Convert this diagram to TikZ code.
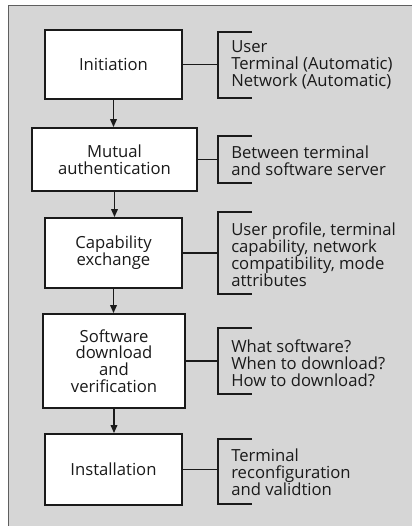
\documentclass[tikz,border=0pt]{standalone}
\usepackage{fontspec}
\setmainfont{Open Sans}
\usetikzlibrary{arrows.meta}
\definecolor{panel}{HTML}{D6D6D6}
\definecolor{ink}{HTML}{1A1A1A}
\begin{document}
\begin{tikzpicture}[x=0.75pt,y=-0.75pt,
  stage/.style={draw=ink,line width=1.4pt,fill=white,align=center,inner sep=0pt,
    font=\fontsize{12.5}{12.6}\selectfont,text=ink},
  note/.style={anchor=west,align=left,inner sep=0pt,
    font=\fontsize{12.5}{12.75}\selectfont,text=ink},
  flow/.style={draw=ink,line width=1.1pt,-{Triangle[length=6pt,width=5pt]}},
  link/.style={draw=ink,line width=1pt},
  brace/.style={draw=ink,line width=1pt}]
\useasboundingbox (0,0) rectangle (412,526);
% grey panel with its left and top rule
\fill[panel] (8,5) rectangle (412,526);
\draw[ink!70,line width=1pt] (8.5,526) -- (8.5,5.5) -- (412,5.5);

% process stages (sizes in px)
\node[stage,minimum width=102.75pt,minimum height=51.75pt] (init) at (113.5,64.5) {Initiation};
\node[stage,minimum width=123.75pt,minimum height=47.25pt] (auth) at (114.5,159.5) {Mutual\\authentication};
\node[stage,minimum width=102.75pt,minimum height=52.5pt] (cap) at (113.5,253) {Capability\\exchange};
\node[stage,minimum width=106.5pt,minimum height=70.5pt] (soft) at (114,361) {Software\\download\\and\\verification};
\node[stage,minimum width=102.75pt,minimum height=53.25pt] (inst) at (113.5,469.5) {Installation};

% flow between stages
\draw[flow] (init.south) -- (init.south |- auth.north);
\draw[flow] (auth.south) -- (auth.south |- cap.north);
\draw[flow] (cap.south) -- (cap.south |- soft.north);
\draw[flow] (soft.south) -- (soft.south |- inst.north);

% side notes
\node[note] (ninit) at (231,65) {User\\Terminal (Automatic)\\Network (Automatic)};
\node[note] (nauth) at (231,161) {Between terminal\\and software server};
\node[note] (ncap) at (231,254.5) {User profile, terminal\\capability, network\\compatibility, mode\\attributes};
\node[note] (nsoft) at (231,363) {What software?\\When to download?\\How to download?};
\node[note] (ninst) at (231,472) {Terminal\\reconfiguration\\and validtion};

% brackets: top end, bottom end
\coordinate (bi1) at (218,32);  \coordinate (bi2) at (218,98);
\coordinate (ba1) at (218,136); \coordinate (ba2) at (218,183);
\coordinate (bc1) at (218,212); \coordinate (bc2) at (218,294);
\coordinate (bs1) at (218,328); \coordinate (bs2) at (218,394);
\coordinate (bn1) at (218,439); \coordinate (bn2) at (218,504);
\foreach \t/\b in {bi1/bi2,ba1/ba2,bc1/bc2,bs1/bs2,bn1/bn2}
  \draw[brace] ([xshift=25.5pt]\t) -- (\t) -- (\b) -- ([xshift=25.5pt]\b);

% links from stages to their brackets
\draw[link] (init.east) -- (init.east -| bi1);
\draw[link] (auth.east) -- (auth.east -| ba1);
\draw[link] (cap.east) -- (cap.east -| bc1);
\draw[link] (soft.east) -- (soft.east -| bs1);
\draw[link] (inst.east) -- (inst.east -| bn1);
\end{tikzpicture}
\end{document}
